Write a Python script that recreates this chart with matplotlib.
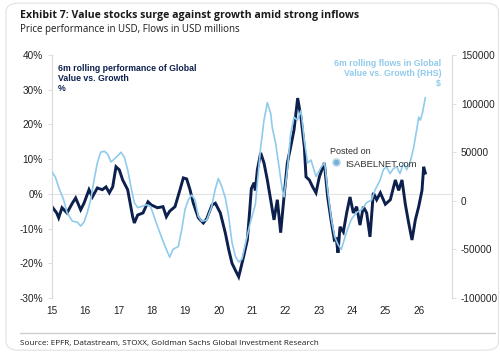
import matplotlib.pyplot as plt
from matplotlib.patches import FancyBboxPatch

# 6m rolling performance of Global Value vs Growth (%), left axis
perf_year = [15.0, 15.14, 15.2, 15.3, 15.45, 15.61, 15.71, 15.86, 15.96, 16.11, 16.21, 16.36,
             16.51, 16.62, 16.72, 16.82, 16.92, 17.02, 17.12, 17.27, 17.42, 17.47, 17.57, 17.73,
             17.88, 17.98, 18.16, 18.33, 18.43, 18.53, 18.69, 18.84, 18.94, 19.04, 19.14, 19.24,
             19.39, 19.54, 19.64, 19.8, 19.9, 20.05, 20.2, 20.3, 20.4, 20.5, 20.6, 20.65, 20.75,
             20.86, 20.93, 20.98, 21.06, 21.1, 21.16, 21.26, 21.36, 21.46, 21.56, 21.66, 21.76,
             21.86, 21.96, 22.06, 22.16, 22.26, 22.37, 22.47, 22.57, 22.62, 22.72, 22.82, 22.92,
             23.02, 23.17, 23.27, 23.37, 23.47, 23.53, 23.58, 23.64, 23.74, 23.84, 23.94, 24.04,
             24.14, 24.24, 24.34, 24.44, 24.54, 24.64, 24.74, 24.85, 25.0, 25.15, 25.3, 25.4,
             25.5, 25.6, 25.7, 25.8, 25.9, 26.0, 26.1, 26.15, 26.2]
perf_val = [-3.7, -5.5, -6.9, -4.0, -5.5, -2.7, -1.2, -4.6, -2.7, 1.2, -0.9, 1.7,
            1.2, 2.0, 0.3, 2.0, 7.8, 6.9, 4.0, 1.2, -6.6, -8.4, -6.1, -5.5,
            -2.3, -3.2, -4.0, -3.7, -6.6, -5.0, -3.7, 1.2, 4.6, 4.3, 1.2, -2.7,
            -6.9, -8.4, -7.2, -3.2, -2.7, -5.5, -11.3, -16.0, -20.0, -22.0, -23.9, -22.0, -18.0,
            -13.3, -5.0, 1.5, 3.2, 1.0, 6.9, 11.8, 8.9, 4.0, -1.7, -7.5, -1.7,
            -11.2, -0.9, 8.9, 13.5, 18.4, 27.6, 22.0, 13.5, 4.9, 4.0, 2.0, 0.3,
            4.9, 8.9, -0.9, -7.5, -13.3, -13.0, -17.0, -9.5, -11.0, -5.5, -0.9, -5.5,
            -3.7, -9.0, -3.7, -5.5, -12.4, 0.3, -1.7, 0.3, -3.0, -1.7, 4.0, 1.0,
            4.0, -3.0, -8.4, -13.3, -7.5, -3.7, 1.0, 7.8, 6.0]

# 6m rolling flows in Global Value vs Growth (USD mn), right axis
flow_year = [15.0, 15.1, 15.2, 15.35, 15.45, 15.61, 15.76, 15.86, 15.96, 16.06, 16.16, 16.26,
             16.36, 16.46, 16.57, 16.67, 16.77, 16.87, 17.02, 17.07, 17.17, 17.27, 17.37, 17.47,
             17.57, 17.68, 17.83, 17.96, 18.11, 18.28, 18.43, 18.53, 18.63, 18.79, 18.89, 18.99,
             19.09, 19.19, 19.29, 19.39, 19.49, 19.64, 19.79, 19.89, 19.99, 20.1, 20.2, 20.3,
             20.4, 20.5, 20.6, 20.7, 20.85, 20.96, 21.1, 21.26, 21.36, 21.46, 21.56, 21.61,
             21.71, 21.81, 21.91, 21.96, 22.06, 22.16, 22.26, 22.36, 22.47, 22.57, 22.67, 22.77,
             22.92, 23.08, 23.18, 23.28, 23.38, 23.48, 23.58, 23.68, 23.83, 23.98, 24.14, 24.29,
             24.44, 24.59, 24.69, 24.84, 24.94, 25.04, 25.14, 25.24, 25.34, 25.44, 25.54, 25.64,
             25.74, 25.85, 25.95, 26.0, 26.05, 26.11, 26.2]
flow_val = [29600, 24500, 14000, 1000, -12000, -21000, -22000, -26000, -22000, -12000, 1000, 21000,
            39000, 50000, 51000, 48000, 40000, 43000, 48000, 50000, 45000, 32000, 14000, -2000,
            -7000, -6000, -4000, -6000, -21000, -37000, -50000, -58000, -50000, -47000, -30000, -9000,
            1000, 6000, 1000, -16000, -21000, -20000, -6000, 11000, 23000, 14000, 3000, -16000,
            -43000, -57000, -63000, -60000, -37000, -21000, -4000, 55000, 83000, 101000, 90000, 75000,
            59000, 35000, 11000, 4000, 32000, 69000, 86000, 83000, 93000, 62000, 39000, 42000,
            25000, 35000, 39000, 8000, -19000, -37000, -45000, -50000, -33000, -19000, -12000, -9000,
            -2000, 1000, 11000, 21000, 32000, 35000, 28000, 33000, 35000, 28000, 39000, 32000,
            39000, 55000, 75000, 86000, 83000, 90000, 106000]

x_ticks = list(range(15, 27))
x_labels = [str(t) for t in x_ticks]
left_ticks = [-30, -20, -10, 0, 10, 20, 30, 40]
right_ticks = [-100000, -50000, 0, 50000, 100000, 150000]

navy = '#0c1f4d'
light = '#8fcbec'
grey = '#d9d9d9'

plt.rcParams['font.family'] = ['Liberation Sans', 'DejaVu Sans']

fig = plt.figure(figsize=(5, 3.53), dpi=100)
fig.patches.append(FancyBboxPatch((0.012, 0.008), 0.985, 0.983, boxstyle='round,pad=0,rounding_size=0.025',
                                  transform=fig.transFigure, facecolor='white', edgecolor='#e2e2e2',
                                  linewidth=0.8, zorder=-5))

ax = fig.add_axes([0.104, 0.156, 0.8, 0.688])
ax2 = ax.twinx()

ax.plot(perf_year, perf_val, color=navy, linewidth=2.1, solid_joinstyle='miter')
ax2.plot(flow_year, flow_val, color=light, linewidth=1.2)

ax.axhline(0, color='#e3e3e3', linewidth=0.8, zorder=0)

ax.set_xlim(15, 27)
ax.set_ylim(-30, 40)
ax2.set_ylim(-100000, 150000)

ax.set_xticks(x_ticks)
ax.set_xticklabels(x_labels)
ax.set_yticks(left_ticks)
ax.set_yticklabels([f'{t}%' for t in left_ticks])
ax2.set_yticks(right_ticks)
ax2.set_yticklabels([str(t) for t in right_ticks])

for a in (ax, ax2):
    for s in ('top', 'bottom'):
        a.spines[s].set_visible(False)
    a.spines['left'].set_color(grey)
    a.spines['right'].set_color(grey)
    a.tick_params(labelsize=7.2, colors='#222222', length=3, width=0.6)
    a.tick_params(axis='y', color=grey)
ax.tick_params(axis='x', length=0, pad=6)
ax.spines['right'].set_visible(False)
ax2.spines['left'].set_visible(False)

fig.text(0.04, 0.972, 'Exhibit 7: Value stocks surge against growth amid strong inflows',
         fontsize=7.55, fontweight='bold', color='#1a1a1a', va='top', family='Open Sans')
fig.text(0.04, 0.932, 'Price performance in USD, Flows in USD millions',
         fontsize=7.0, color='#1a1a1a', va='top', family='Open Sans')

ax.text(0.015, 0.965, '6m rolling performance of Global\nValue vs. Growth\n%', transform=ax.transAxes,
        fontsize=6.3, fontweight='bold', color=navy, va='top', ha='left', linespacing=1.15)
ax.text(0.973, 0.985, '6m rolling flows in Global\nValue vs. Growth (RHS)\n$', transform=ax.transAxes,
        fontsize=6.3, fontweight='bold', color=light, va='top', ha='right', linespacing=1.15,
        multialignment='right')

# watermark
fig.text(0.66, 0.565, 'Posted on', fontsize=6.5, color='#333333')
fig.text(0.69, 0.527, 'ISABELNET.com', fontsize=6.8, color='#333333')
ax.plot([0.71], [0.56], transform=ax.transAxes, marker='o', markersize=5,
        color='#6fb3dc', markeredgecolor='#b8d4e6', markeredgewidth=1.2, zorder=5)

fig.add_artist(plt.Line2D([0.04, 0.99], [0.057, 0.057], color='#d0d0d0', linewidth=1.0,
                          transform=fig.transFigure))
fig.text(0.04, 0.028, 'Source: EPFR, Datastream, STOXX, Goldman Sachs Global Investment Research',
         fontsize=5.85, color='#1a1a1a', va='center', family='Open Sans')

fig.savefig('out.png', dpi=100)
